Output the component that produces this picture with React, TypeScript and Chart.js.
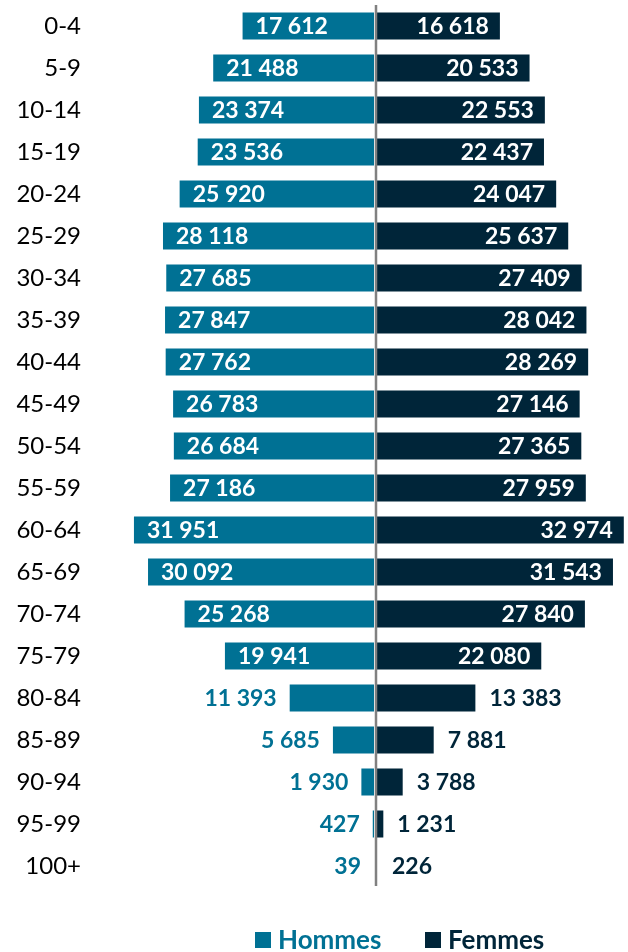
import React, { useEffect, useRef } from "react";
import { Chart, registerables } from "chart.js";

Chart.register(...registerables);

const ageGroups = ["0-4", "5-9", "10-14", "15-19", "20-24", "25-29", "30-34", "35-39", "40-44", "45-49", "50-54", "55-59", "60-64", "65-69", "70-74", "75-79", "80-84", "85-89", "90-94", "95-99", "100+"];
const hommes = [17612, 21488, 23374, 23536, 25920, 28118, 27685, 27847, 27762, 26783, 26684, 27186, 31951, 30092, 25268, 19941, 11393, 5685, 1930, 427, 39];
const femmes = [16618, 20533, 22553, 22437, 24047, 25637, 27409, 28042, 28269, 27146, 27365, 27959, 32974, 31543, 27840, 22080, 13383, 7881, 3788, 1231, 226];

const HOMMES_COLOR = "#007194";
const FEMMES_COLOR = "#002539";
const FONT = "Lato, 'Open Sans', sans-serif";

function fmt(v: number): string {
  return Math.abs(Math.round(v)).toString().replace(/\B(?=(\d{3})+(?!\d))/g, " ");
}

const labelPlugin = {
  id: "pyramidLabels",
  afterDatasetsDraw(chart: any) {
    const ctx = chart.ctx;
    const xScale = chart.scales.x;
    const area = chart.chartArea;
    ctx.save();
    ctx.font = `bold 23px ${FONT}`;
    ctx.textBaseline = "middle";
    chart.data.datasets.forEach((ds: any, di: number) => {
      const meta = chart.getDatasetMeta(di);
      meta.data.forEach((bar: any, i: number) => {
        const v = ds.data[i];
        const inside = Math.abs(v) > 15000;
        const zero = xScale.getPixelForValue(0);
        const end = bar.x;
        if (v < 0) {
          if (inside) {
            ctx.fillStyle = "#ffffff";
            ctx.textAlign = "left";
            ctx.fillText(fmt(v), end + 14, bar.y + 1);
          } else {
            ctx.fillStyle = HOMMES_COLOR;
            ctx.textAlign = "right";
            ctx.fillText(fmt(v), Math.min(end, zero - 2) - 12, bar.y + 1);
          }
        } else {
          if (inside) {
            ctx.fillStyle = "#ffffff";
            ctx.textAlign = "right";
            ctx.fillText(fmt(v), end - 12, bar.y + 1);
          } else {
            ctx.fillStyle = FEMMES_COLOR;
            ctx.textAlign = "left";
            ctx.fillText(fmt(v), Math.max(end, zero + 4) + 13, bar.y + 1);
          }
        }
      });
    });
    // center axis line
    const x0 = xScale.getPixelForValue(0);
    ctx.strokeStyle = "#808080";
    ctx.lineWidth = 2.5;
    ctx.beginPath();
    ctx.moveTo(x0 + 1, area.top);
    ctx.lineTo(x0 + 1, area.bottom - 1);
    ctx.stroke();

    // legend
    const items = [
      { text: "Hommes", color: HOMMES_COLOR, x: 255 },
      { text: "Femmes", color: FEMMES_COLOR, x: 425 },
    ];
    const ly = 940;
    items.forEach((it) => {
      ctx.fillStyle = it.color;
      ctx.fillRect(it.x, ly - 8, 16, 16);
      ctx.textAlign = "left";
      ctx.font = `bold 26px ${FONT}`;
      ctx.fillText(it.text, it.x + 23, ly + 1);
    });
    ctx.restore();
  },
};

export default function App() {
  const ref = useRef<HTMLCanvasElement | null>(null);
  useEffect(() => {
    if (!ref.current) return;
    const chart = new Chart(ref.current, {
      type: "bar",
      data: {
        labels: ageGroups,
        datasets: [
          {
            label: "Hommes",
            data: hommes.map((v) => -v),
            backgroundColor: HOMMES_COLOR,
            borderColor: "rgba(255,255,255,0.5)",
            borderWidth: 1,
            borderSkipped: false,
            barPercentage: 0.69,
            categoryPercentage: 1,
          },
          {
            label: "Femmes",
            data: femmes,
            backgroundColor: FEMMES_COLOR,
            borderColor: "rgba(255,255,255,0.5)",
            borderWidth: 1,
            borderSkipped: false,
            barPercentage: 0.69,
            categoryPercentage: 1,
          },
        ],
      },
      options: {
        indexAxis: "y",
        animation: false,
        responsive: true,
        maintainAspectRatio: false,
        layout: { padding: { top: 5, bottom: 65, right: 3, left: 0 } },
        plugins: {
          legend: { display: false },
          tooltip: { enabled: false },
        },
        scales: {
          x: {
            stacked: true,
            display: false,
            min: -33000,
            max: 33000,
          },
          y: {
            stacked: true,
            grid: { display: false, drawTicks: false },
            border: { display: false },
            ticks: {
              padding: 44,
              color: "#000000",
              font: { family: FONT, size: 24 },
            },
            afterFit(scale: any) {
              scale.width = 125;
              scale.paddingTop = 0;
              scale.paddingBottom = 0;
            },
          },
        },
      },
      plugins: [labelPlugin],
    });
    return () => chart.destroy();
  }, []);
  return (
    <div style={{ position: "absolute", left: 0, top: 0, width: 628, height: 952 }}>
      <canvas ref={ref} />
    </div>
  );
}
